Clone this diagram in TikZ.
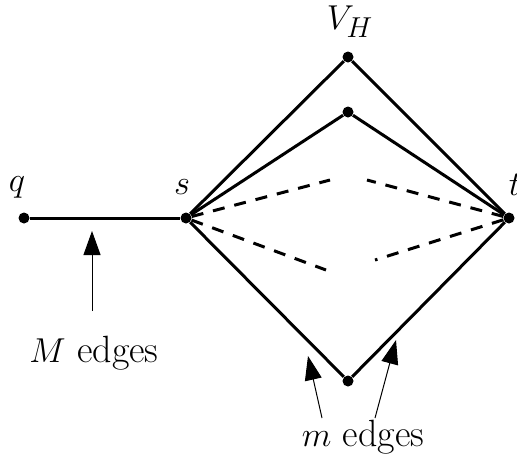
\documentclass[tikz,border=0pt]{standalone}
\usetikzlibrary{arrows.meta}
\begin{document}
\begin{tikzpicture}[x=0.5pt,y=-0.5pt,
  vtx/.style={circle,fill=black,inner sep=0pt,minimum size=5.5pt},
  edge/.style={line width=1.5pt},
  dedge/.style={line width=1.5pt,dash pattern=on 6pt off 5pt},
  lbl/.style={font=\fontsize{19}{22}\selectfont,inner sep=0pt},
  ptr/.style={line width=0.5pt,-{Triangle[length=12pt,width=8.5pt]}}]
\useasboundingbox (0,0) rectangle (517,456);
\clip (0,0) rectangle (517,456);
\node[vtx] (q) at (24,218) {};
\node[vtx] (s) at (186,218) {};
\node[vtx] (t) at (509,218) {};
\node[vtx] (vh) at (348,57) {};
\node[vtx] (v2) at (348,112) {};
\node[vtx] (b) at (348,381) {};
\coordinate (d1) at (330,180);
\coordinate (d2) at (326,270);
\coordinate (d3) at (367,180);
\coordinate (d4) at (375,260);
\node[lbl] (lq) at (17,187) {$q$};
\node[lbl] (ls) at (182,187) {$s$};
\node[lbl] (lt) at (515,185) {$t$};
\node[lbl] (lvh) at (350,22) {$V_H$};
\node[lbl] (lM) at (94,353) {$M$ edges};
\node[lbl] (lm) at (363,437) {$m$ edges};
\draw[edge] (q) -- (s);
\draw[edge] (s) -- (vh) -- (t);
\draw[edge] (s) -- (v2) -- (t);
\draw[edge] (s) -- (b) -- (t);
\draw[dedge] (s) -- (d1);
\draw[dedge] (s) -- (d2);
\draw[dedge] (t) -- (d3);
\draw[dedge] (t) -- (d4);
\coordinate (mA) at (92,311);
\coordinate (mB) at (92,231);
\coordinate (a1) at (322,418);
\coordinate (a1t) at (308,356);
\coordinate (a2) at (375,418);
\coordinate (a2t) at (396,340);
\draw[ptr] (mA) -- (mB);
\draw[ptr] (a1) -- (a1t);
\draw[ptr] (a2) -- (a2t);
\end{tikzpicture}
\end{document}
